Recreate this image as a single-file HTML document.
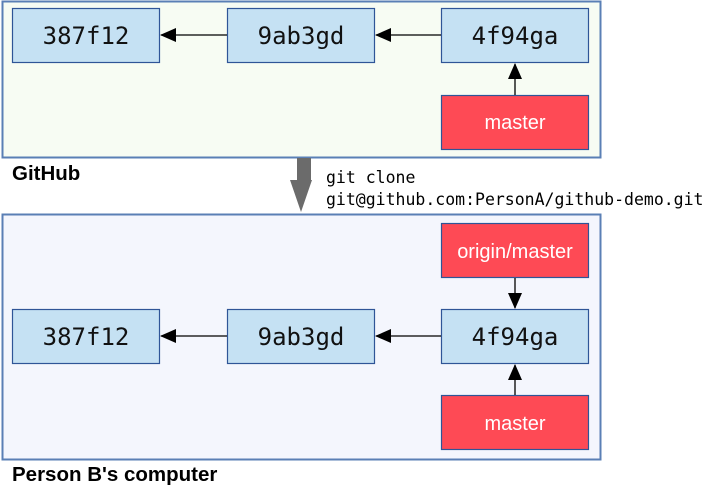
<!DOCTYPE html>
<html><head><meta charset="utf-8"><style>
html,body{margin:0;padding:0;background:#fff;width:716px;height:491px;overflow:hidden}
</style></head><body>
<svg width="716" height="491" viewBox="0 0 716 491" xmlns="http://www.w3.org/2000/svg">
<defs>
<marker id="a" markerWidth="16" markerHeight="14" refX="15" refY="7" orient="auto" markerUnits="userSpaceOnUse">
<path d="M0,0 L16,7 L0,14 Z" fill="#000"/></marker>
</defs>
<g stroke="#5a7fb5" stroke-width="2">
<rect x="2.5" y="1.5" width="598" height="156" fill="#f7fcf3"/>
<rect x="2.5" y="214.5" width="598" height="245" fill="#f4f6fd"/>
</g>
<g stroke="#2f5597" stroke-width="1.2" fill="#c5e1f3">
<rect x="12.5" y="8.5" width="147" height="54"/>
<rect x="227.5" y="8.5" width="147" height="54"/>
<rect x="441.5" y="8.5" width="147" height="54"/>
<rect x="12.5" y="309.5" width="147" height="54"/>
<rect x="227.5" y="309.5" width="147" height="54"/>
<rect x="441.5" y="309.5" width="147" height="54"/>
</g>
<g stroke="#2f5597" stroke-width="1.2" fill="#fe4a55">
<rect x="441.5" y="95.5" width="147" height="54"/>
<rect x="441.5" y="223.5" width="147" height="54"/>
<rect x="441.5" y="395.5" width="147" height="54"/>
</g>
<g stroke="#000" stroke-width="1.3" marker-end="url(#a)">
<line x1="227" y1="35" x2="161" y2="35"/>
<line x1="441" y1="35" x2="376" y2="35"/>
<line x1="515" y1="95" x2="515" y2="64"/>
<line x1="227" y1="336" x2="161" y2="336"/>
<line x1="441" y1="336" x2="376" y2="336"/>
<line x1="515" y1="278" x2="515" y2="308"/>
<line x1="515" y1="395" x2="515" y2="365"/>
</g>
<rect x="297" y="158" width="14" height="22" fill="#6b6b6b"/>
<path d="M290,180 L312,180 L301,212 Z" fill="#6b6b6b"/>
<g font-family="'DejaVu Sans Mono',monospace" font-size="24" text-anchor="middle" fill="#111">
<text x="86" y="44">387f12</text>
<text x="301" y="44">9ab3gd</text>
<text x="515" y="44">4f94ga</text>
<text x="86" y="345">387f12</text>
<text x="301" y="345">9ab3gd</text>
<text x="515" y="345">4f94ga</text>
</g>
<g font-family="'Liberation Sans',sans-serif" font-size="20" text-anchor="middle" fill="#fff">
<text x="515" y="129">master</text>
<text x="515" y="258">origin/master</text>
<text x="515" y="430">master</text>
</g>
<g font-family="'Liberation Sans',sans-serif" font-size="20.5" font-weight="bold" fill="#000">
<text x="12" y="180">GitHub</text>
<text x="12" y="481">Person B's computer</text>
</g>
<g font-family="'DejaVu Sans Mono',monospace" font-size="16.5" fill="#000">
<text x="326" y="183">git clone</text>
<text x="326" y="205">git@github.com:PersonA/github-demo.git</text>
</g>
</svg>
</body></html>
